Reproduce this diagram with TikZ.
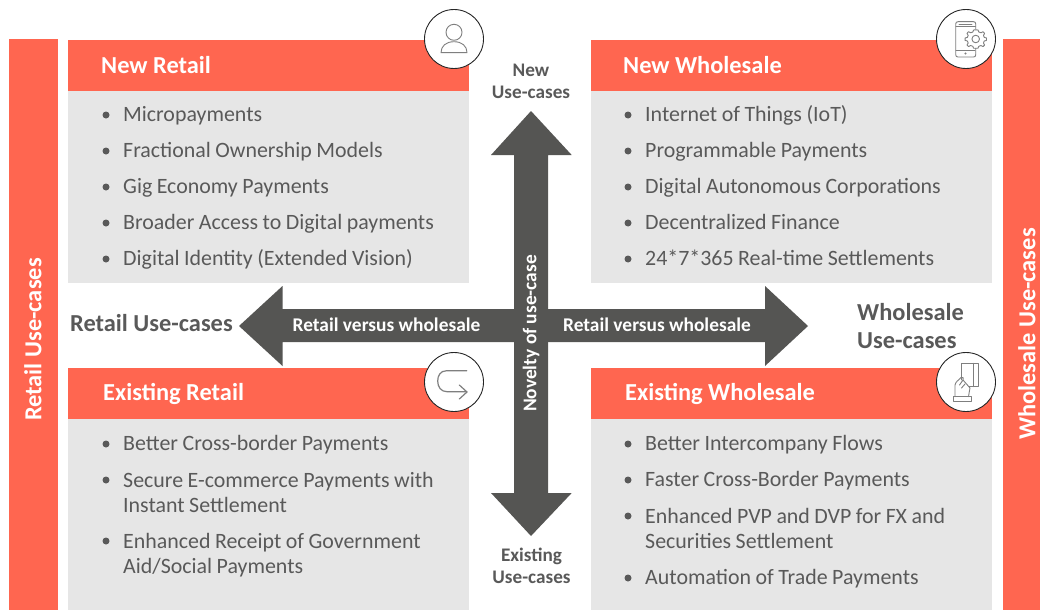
\documentclass[tikz,border=0pt]{standalone}
\usepackage{fontspec}
\setmainfont{Carlito}
\definecolor{coral}{HTML}{FF6650}
\definecolor{panel}{HTML}{E6E6E6}
\definecolor{arrowgray}{HTML}{555553}
\definecolor{bodytext}{HTML}{595959}
\definecolor{icongray}{HTML}{7F7F7F}
\tikzset{
  head/.style={fill=coral,draw=none,minimum height=51pt,minimum width=401pt,anchor=north west,inner sep=0pt},
  panelbox/.style={fill=panel,draw=none,minimum width=401pt,anchor=north west,inner sep=0pt},
  headtext/.style={text=white,font=\fontsize{24.4}{28}\selectfont\bfseries,anchor=west,inner sep=0pt},
  item/.style={text=bodytext,font=\fontsize{21.9}{25.5}\selectfont,anchor=west,inner sep=0pt,align=left,text width=340pt,execute at begin node={\spaceskip=4.5pt\relax}},
  oneline/.style={text height=15pt,text depth=5pt},
  dot/.style={circle,fill=bodytext,draw=none,minimum size=7pt,inner sep=0pt},
  sidebar/.style={fill=coral,draw=none,anchor=north west,inner sep=0pt,minimum height=571pt},
  sidetext/.style={text=white,font=\fontsize{24.4}{28}\selectfont\bfseries,rotate=90,inner sep=0pt},
  ringnode/.style={circle,draw=black!85,line width=0.9pt,fill=white,minimum size=59pt,inner sep=0pt},
  icon/.style={draw=icongray,line width=0.9pt,line join=round,line cap=round},
  arrowshape/.style={fill=arrowgray,draw=none},
  arrowtext/.style={text=white,font=\fontsize{19.4}{22}\selectfont\bfseries,inner sep=0pt},
  axis/.style={text=bodytext,font=\fontsize{19.2}{22}\selectfont\bfseries,align=center,inner sep=0pt},
  axisbig/.style={text=bodytext,font=\fontsize{24.4}{28}\selectfont\bfseries,align=left,inner sep=0pt,anchor=west}
}
\newcommand{\bul}[3]{\node[dot] (#1d) at (106,#2) {};\node[item,oneline] (#1) at (123,#2+1) {#3};}
\newcommand{\bur}[3]{\node[dot] (#1d) at (628,#2) {};\node[item,oneline] (#1) at (645,#2+1) {#3};}
\begin{document}
\begin{tikzpicture}[x=1pt,y=-1pt]
\useasboundingbox (0,0) rectangle (1040,610);
% side bars
\node[sidebar,minimum width=49pt] (leftbar) at (9,39) {};
\node[sidebar,minimum width=37pt] (rightbar) at (1003,39) {};
\node[sidetext] (lefttext) at (33,339.5) {Retail Use-cases};
\node[sidetext] (righttext) at (1027,334) {Wholesale Use-cases};
% panels
\node[panelbox,minimum height=192pt] (nrp) at (68,91) {};
\node[panelbox,minimum height=192pt] (nwp) at (590.5,91) {};
\node[panelbox,minimum height=191pt] (erp) at (68,419) {};
\node[panelbox,minimum height=191pt] (ewp) at (590.5,419) {};
\node[head] (nrh) at (68,40) {};
\node[head] (nwh) at (590.5,40) {};
\node[head] (erh) at (68,368) {};
\node[head] (ewh) at (590.5,368) {};
\node[headtext] (nrt) at (101,65) {New Retail};
\node[headtext] (nwt) at (623,65) {New Wholesale};
\node[headtext] (ert) at (103,394) {Existing Retail};
\node[headtext] (ewt) at (625,394) {Existing Wholesale};
% items
\bul{a1}{115}{Micropayments}
\bul{a2}{151}{Fractional Ownership Models}
\bul{a3}{187}{Gig Economy Payments}
\bul{a4}{223}{Broader Access to Digital payments}
\bul{a5}{259}{Digital Identity (Extended Vision)}
\bur{b1}{115}{Internet of Things (IoT)}
\bur{b2}{151}{Programmable Payments}
\bur{b3}{187}{Digital Autonomous Corporations}
\bur{b4}{223}{Decentralized Finance}
\bur{b5}{259}{24*7*365 Real-time Settlements}
\bul{c1}{444}{Better Cross-border Payments}
\node[dot] (c2d) at (106,480) {};
\node[item] (c2) at (123,492.5) {Secure E-commerce Payments with\\Instant Settlement};
\node[dot] (c3d) at (106,541) {};
\node[item] (c3) at (123,555) {Enhanced Receipt of Government\\Aid/Social Payments};
\bur{e1}{444}{Better Intercompany Flows}
\bur{e2}{480}{Faster Cross-Border Payments}
\node[dot] (e3d) at (628,516) {};
\node[item] (e3) at (645,528.5) {Enhanced PVP and DVP for FX and\\Securities Settlement};
\bur{e4}{578}{Automation of Trade Payments}
% arrows
\fill[arrowshape] (239,326) -- (282.5,286) -- (282.5,309) -- (765,309) -- (765,286) -- (808,326) -- (765,366) -- (765,342) -- (282.5,342) -- (282.5,366) -- cycle;
\fill[arrowshape] (531,111) -- (571.7,155) -- (548,155) -- (548,493) -- (571.7,493) -- (531,536) -- (491,493) -- (514,493) -- (514,155) -- (491,155) -- cycle;
\node[arrowtext] (hl) at (386.5,325) {Retail versus wholesale};
\node[arrowtext] (hr) at (657,325) {Retail versus wholesale};
\node[arrowtext,rotate=90] (vt) at (531,333.5) {Novelty of use-case};
% axis labels
\node[axis] (newuc) at (531,81) {New\\Use-cases};
\node[axis] (exuc) at (531.5,566) {Existing\\Use-cases};
\node[axisbig] (retuc) at (70,323) {Retail Use-cases};
\node[axisbig] (whuc) at (857,326.5) {Wholesale\\Use-cases};
% icon rings
\node[ringnode] (r1) at (454,39) {};
\node[ringnode] (r2) at (966,39) {};
\node[ringnode] (r3) at (454,382) {};
\node[ringnode] (r4) at (966,382) {};
% person
\draw[icon] (454,32.3) circle (8pt);
\draw[icon] (441,52.7) .. controls (441,46) and (446,41.7) .. (454,41.7) .. controls (462,41.7) and (467,46) .. (467,52.7) -- cycle;
% phone with gear
\draw[icon] (975.7,29) -- (975.7,24) .. controls (975.7,22.5) and (975,21.7) .. (973.5,21.7) -- (958,21.7) .. controls (956.5,21.7) and (955.7,22.5) .. (955.7,24) -- (955.7,54.7) .. controls (955.7,56.2) and (956.5,57) .. (958,57) -- (973.5,57) .. controls (975,57) and (975.7,56.2) .. (975.7,54.7) -- (975.7,49);
\draw[icon] (956,26.7) -- (975.5,26.7);
\draw[icon] (956,50) -- (975,50);
\draw[icon] (959,24.2) -- (972,24.2);
\fill[icongray] (965.5,53.5) circle (1.2pt);
\draw[icon] (975.7,39) circle (3.8pt);
\draw[icon] plot[smooth cycle,tension=0.3] coordinates {
  (975.7,29.8) (978,30) (978.8,32) (981,32.8) (983,31.7) (984.6,33.4) (983.4,35.5) (984.3,37.4) (986.5,38) (986.5,40.4) (984.3,41) (983.4,43) (984.6,45) (983,46.6) (981,45.5) (978.8,46.3) (978,48.2) (973.6,48.2) (972.8,46.3) (970.6,45.5) (968.6,46.6) (967,45) (968.2,43) (967.3,41) (965.1,40.4) (965.1,38) (967.3,37.4) (968.2,35.5) (967,33.4) (968.6,31.7) (970.6,32.8) (972.8,32) (973.6,30)};
% u-turn arrow
\draw[icon,line width=1.2pt] (466.7,370.7) -- (446.7,370.7) .. controls (440,370.7) and (437.7,376) .. (437.7,381) .. controls (437.7,387) and (441,391.7) .. (447,391.7) -- (466.7,391.7);
\draw[icon,line width=1.2pt] (459.3,385) -- (467,392) -- (459.3,399);
% hand with card
\draw[icon] (961.7,380) -- (961.7,363.3) -- (978.3,363.3) -- (978.3,386.7) -- (969,386.7);
\draw[icon] (973,363.3) -- (973,386.7);
\draw[icon] (953.5,396.7) rectangle (971.7,401.7);
\draw[icon] (955,396.7) -- (955,385) .. controls (956,381) and (958,381) .. (961,377.5) .. controls (963,376.5) and (964,378) .. (963,380) -- (959.5,385);
\draw[icon] (963,380) -- (970,388) -- (969.5,390.5) -- (968.5,396.7);
\draw[icon] (961.5,388) -- (965,384);
\end{tikzpicture}
\end{document}
